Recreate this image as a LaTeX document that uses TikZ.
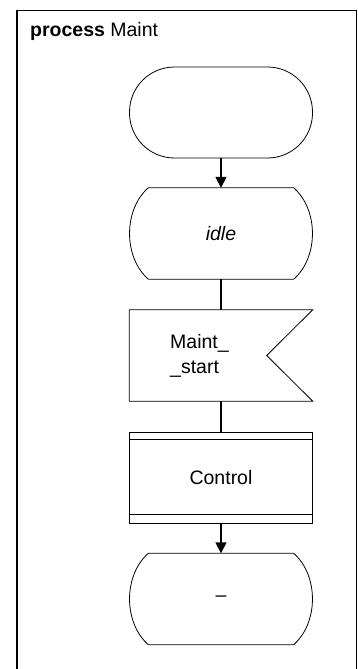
\documentclass[tikz,border=0pt]{standalone}
\usepackage{fontspec}
\setmainfont{Liberation Sans}
\usetikzlibrary{arrows.meta}

% outline of an SDL state symbol round a node
\newcommand{\sdlstate}[1]{%
  \draw[outline] ([xshift=19pt]#1.north west) -- ([xshift=-19pt]#1.north east)
    .. controls +(25pt,-22pt) and +(25pt,22pt) .. ([xshift=-19pt]#1.south east)
    -- ([xshift=19pt]#1.south west)
    .. controls +(-25pt,22pt) and +(-25pt,-22pt) .. ([xshift=19pt]#1.north west) -- cycle;}

\begin{document}
\begin{tikzpicture}[x=1pt,y=-1pt,>={Triangle[length=11pt,width=11pt]},
  every node/.style={font=\fontsize{19.5}{25}\selectfont},
  sdl/.style={minimum width=183pt,minimum height=91pt,inner sep=0pt},
  outline/.style={line width=0.8pt},
  flow/.style={line width=1.6pt},
  bar/.style={line width=1.5pt}]
\clip (0,0) rectangle (358,669);
\draw[line width=1.7pt] (17,10.5) rectangle (356.5,690);
\node[anchor=base west,inner sep=0pt] (title) at (30,37) {\textbf{process} Maint};
% start
\node[sdl,draw,outline,rounded corners=45pt] (start) at (221,112.5) {};
% state idle
\node[sdl] (idle) at (221,233.5) {\itshape idle};
\sdlstate{idle}
% input signal
\node[sdl] (input) at (221,355.5) {};
\draw[outline] (input.north west) -- (input.north east) -- ([xshift=-46pt]input.east)
  -- (input.south east) -- (input.south west) -- cycle;
\node[align=left,anchor=west,inner sep=0pt] (inputtext) at (170,355.5) {Maint\_\\\_start};
% procedure call
\node[sdl,draw,outline] (control) at (221,477.5) {Control};
\draw[bar] ([yshift=-8pt]control.north west) -- ([yshift=-8pt]control.north east);
\draw[bar] ([yshift=9pt]control.south west) -- ([yshift=9pt]control.south east);
% next state
\node[sdl] (stop) at (221,599) {\textendash};
\sdlstate{stop}
% flow lines
\draw[flow,->] (start.south) -- (idle.north);
\draw[flow] (idle.south) -- (input.north);
\draw[flow] (input.south) -- (control.north);
\draw[flow,->] (control.south) -- (stop.north);
\end{tikzpicture}
\end{document}
